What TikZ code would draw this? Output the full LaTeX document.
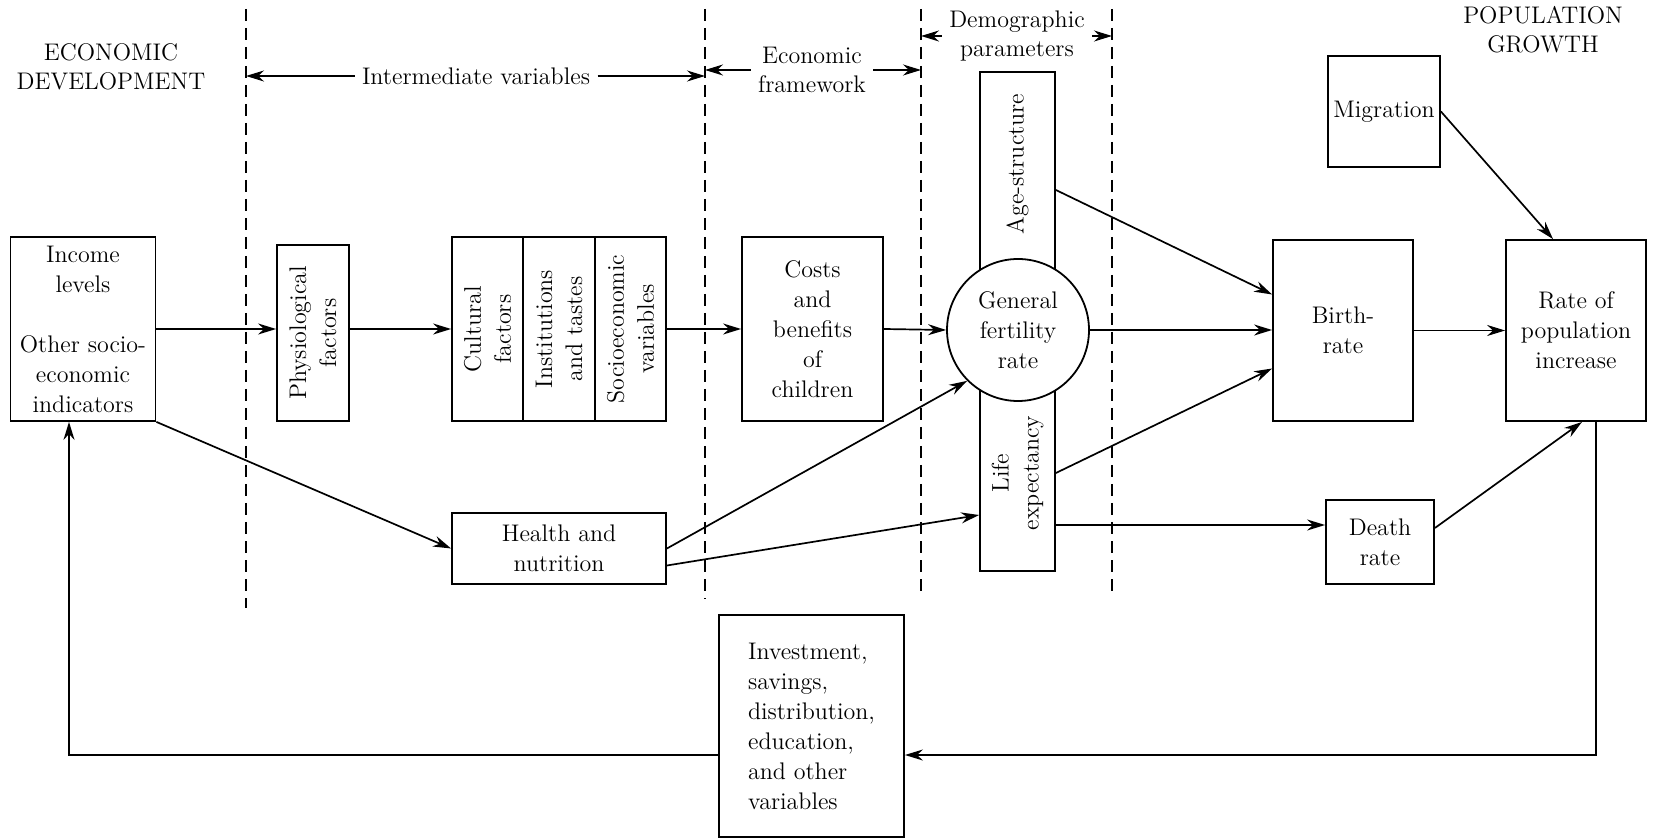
\documentclass[tikz,border=0pt]{standalone}
\usetikzlibrary{arrows.meta}

\tikzset{
  box/.style={draw, line width=0.9pt, align=center, inner sep=1pt, font=\fontsize{12}{15}\selectfont},
  vbox/.style={box, rotate=90},
  heading/.style={align=center, font=\fontsize{12}{14.5}\selectfont},
  divider/.style={line width=0.8pt, dash pattern=on 6pt off 3.5pt},
}

\begin{document}
\begin{tikzpicture}[x=0.5pt,y=-0.5pt,>={Stealth[length=9pt,width=5.5pt]},line width=0.85pt]
\useasboundingbox (0,0) rectangle (1657,838);
% Stage borders
\coordinate (d1) at (246,0);
\coordinate (d2) at (705,0);
\coordinate (d3) at (921,0);
\coordinate (d4) at (1112,0);
\draw[divider] (246,9) -- (246,608);
\draw[divider] (705,9) -- (705,599);
\draw[divider] (921,9) -- (921,594);
\draw[divider] (1112,9) -- (1112,597);
% Headings
\node[heading] (econdev) at (111,67) {ECONOMIC\\DEVELOPMENT};
\node[heading] (popgrowth) at (1543,30) {POPULATION\\GROWTH};
\node[heading] (intvar) at (476,76) {Intermediate variables};
\node[heading] (econfw) at (812,70) {Economic\\framework};
\node[heading] (demog) at (1017,36) {Demographic\\parameters};
\draw[->] (intvar.west) -- (intvar.west -| d1);
\draw[->] (intvar.east) -- (intvar.east -| d2);
\draw[->] (econfw.west) -- (econfw.west -| d2);
\draw[->] (econfw.east) -- (econfw.east -| d3);
\draw[->] (demog.west) -- (demog.west -| d3);
\draw[->] (demog.east) -- (demog.east -| d4);
% Boxes
\node[box, minimum width=72.5pt, minimum height=92pt] (income) at (83,329) {Income\\levels\\[15pt]Other socio-\\economic\\indicators};
\node[vbox, minimum width=88pt, minimum height=36pt] (phys) at (313,333) {Physiological\\factors};
\node[vbox, minimum width=92pt, minimum height=35.5pt] (cult) at (487.5,329) {Cultural\\factors};
\node[vbox, minimum width=92pt, minimum height=36pt] (inst) at (559,329) {Institutions\\and tastes};
\node[vbox, minimum width=92pt, minimum height=35.5pt] (socio) at (630.5,329) {Socioeconomic\\variables};
\node[box, minimum width=70.5pt, minimum height=92pt] (costs) at (812.5,329) {Costs\\and\\benefits\\of\\children};
\node[vbox, minimum width=118pt, minimum height=37.5pt] (agestr) at (1017.5,190) {\hspace*{26pt}Age-structure};
\node[vbox, minimum width=98pt, minimum height=37.5pt] (lifeexp) at (1017.5,473) {Life\\expectancy};
\node[box, circle, fill=white, minimum size=71pt, inner sep=0pt] (gfr) at (1018,330) {General\\fertility\\rate};
\node[box, minimum width=70pt, minimum height=90.5pt] (birth) at (1343,330.5) {Birth-\\rate};
\node[box, minimum width=70pt, minimum height=90.5pt] (rate) at (1576,330.5) {Rate of\\population\\increase};
\node[box, minimum width=56pt, minimum height=55.5pt] (migr) at (1384,111.5) {Migration};
\node[box, minimum width=54pt, minimum height=42pt] (death) at (1380,542) {Death\\rate};
\node[box, minimum width=107pt, minimum height=35.5pt] (health) at (559,548.5) {Health and\\nutrition};
\node[box, minimum width=92.5pt, minimum height=111pt, align=left] (invest) at (811.5,726) {Investment,\\savings,\\distribution,\\education,\\and other\\variables};
% Main chain
\draw[->] (income.east) -- (income.east -| phys.north);
\draw[->] (phys.south |- cult.north) -- (cult.north);
\draw[->] (socio.south) -- (costs.west);
\draw[->] (costs.east) -- (gfr.west);
\draw[->] (gfr.east) -- (birth.west |- gfr.east);
\draw[->] (birth.east) -- (rate.west);
% Demographic links
\draw[->] (agestr.south) -- ([yshift=18pt]birth.west);
\draw[->] (lifeexp.south) -- ([yshift=-19pt]birth.west);
\draw[->] ([yshift=-26pt]lifeexp.south) -- ([yshift=8.5pt]death.west);
\draw[->] ([yshift=7pt]death.east) -- ([xshift=3pt]rate.south);
\draw[->] (migr.east) -- ([xshift=-11.5pt]rate.north);
% Health links
\draw[->] (income.south east) -- (health.west);
\draw[->] (health.east) -- (gfr.225);
\draw[->] ([yshift=-8.5pt]health.east) -- ([yshift=-21pt]lifeexp.north);
% Feedback
\draw[->] ([xshift=10pt]rate.south) |- ([yshift=-14.5pt]invest.east);
\draw[->] ([yshift=-14.5pt]invest.west) -| ([xshift=-7pt]income.south);
\end{tikzpicture}
\end{document}
